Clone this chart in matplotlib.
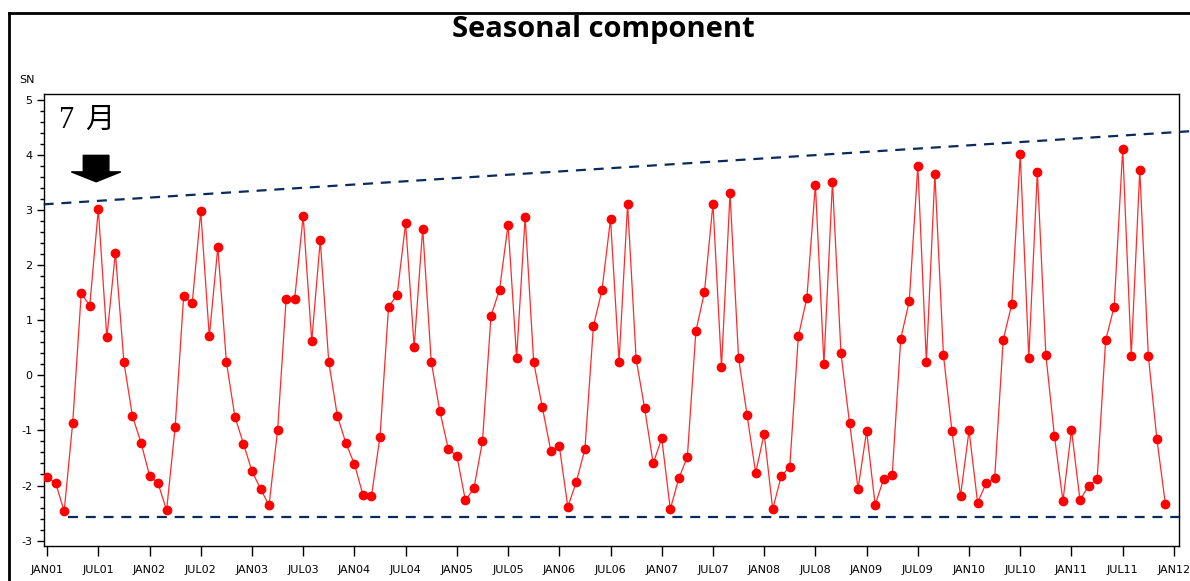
import matplotlib
matplotlib.use("Agg")
import matplotlib.pyplot as plt
from matplotlib.patches import FancyArrow
from matplotlib.ticker import MultipleLocator
import numpy as np

plt.rcParams["axes.unicode_minus"] = False

# seasonal component, monthly JAN01 .. DEC11
sn_2001 = [-1.85, -1.95, -2.47, -0.86, 1.49, 1.27, 3.02, 0.69, 2.23, 0.24, -0.74, -1.22]
sn_2002 = [-1.82, -1.96, -2.45, -0.94, 1.45, 1.31, 2.98, 0.71, 2.33, 0.25, -0.75, -1.24]
sn_2003 = [-1.74, -2.06, -2.36, -1.00, 1.39, 1.39, 2.90, 0.62, 2.46, 0.24, -0.73, -1.23]
sn_2004 = [-1.61, -2.17, -2.19, -1.11, 1.25, 1.46, 2.77, 0.52, 2.67, 0.25, -0.64, -1.34]
sn_2005 = [-1.46, -2.27, -2.05, -1.20, 1.08, 1.56, 2.74, 0.32, 2.88, 0.24, -0.57, -1.37]
sn_2006 = [-1.28, -2.39, -1.93, -1.34, 0.90, 1.55, 2.84, 0.25, 3.11, 0.30, -0.60, -1.60]
sn_2007 = [-1.14, -2.43, -1.87, -1.48, 0.80, 1.51, 3.12, 0.15, 3.31, 0.32, -0.72, -1.77]
sn_2008 = [-1.06, -2.43, -1.83, -1.66, 0.71, 1.41, 3.47, 0.21, 3.52, 0.40, -0.86, -2.06]
sn_2009 = [-1.01, -2.35, -1.88, -1.81, 0.67, 1.35, 3.81, 0.24, 3.66, 0.37, -1.01, -2.19]
sn_2010 = [-1.00, -2.31, -1.96, -1.87, 0.65, 1.29, 4.02, 0.32, 3.70, 0.37, -1.10, -2.28]
sn_2011 = [-0.99, -2.27, -2.00, -1.89, 0.64, 1.25, 4.12, 0.36, 3.73, 0.36, -1.15, -2.34]

sn_values = (sn_2001 + sn_2002 + sn_2003 + sn_2004 + sn_2005 + sn_2006
             + sn_2007 + sn_2008 + sn_2009 + sn_2010 + sn_2011)

tick_labels = ["JAN01", "JUL01", "JAN02", "JUL02", "JAN03", "JUL03", "JAN04", "JUL04",
               "JAN05", "JUL05", "JAN06", "JUL06", "JAN07", "JUL07", "JAN08", "JUL08",
               "JAN09", "JUL09", "JAN10", "JUL10", "JAN11", "JUL11", "JAN12"]

# hand drawn guide lines (month index, SN value)
upper_x = [-0.4, 134.0]
upper_y = [3.11, 4.44]
lower_x = [2.4, 133.1]
lower_y = [-2.57, -2.57]

months = np.arange(len(sn_values))

fig = plt.figure(figsize=(11.9, 5.81), dpi=100)
ax = fig.add_axes([0.0367, 0.0602, 0.9541, 0.7775])

ax.plot(months, sn_values, color="#ff2a2a", lw=0.9, zorder=3)
ax.plot(months, sn_values, ls="none", marker="o", ms=6, color="red", zorder=4)

ax.set_xlim(-0.4, 132.6)
ax.set_ylim(-3.1, 5.11)
ax.set_xticks(np.arange(0, 133, 6))
ax.set_xticklabels(tick_labels)
ax.yaxis.set_major_locator(MultipleLocator(1))
ax.yaxis.set_minor_locator(MultipleLocator(0.2))
ax.tick_params(axis="x", length=7, width=1, labelsize=8, pad=7)
ax.tick_params(axis="y", which="major", length=5, width=1, labelsize=8, pad=3)
ax.tick_params(axis="y", which="minor", length=3, width=1)
for s in ax.spines.values():
    s.set_linewidth(1)

# dashed envelope lines
ax.plot(upper_x, upper_y, ls=(0, (4.5, 3.5)), color="#0b2a5c", lw=1.6, clip_on=False, zorder=5)
ax.plot(lower_x, lower_y, ls=(0, (4.5, 3.5)), color="#0b2a5c", lw=1.6, clip_on=False, zorder=5)

# July marker
ax.text(1.4, 4.64, "7", fontsize=22, va="center", ha="left", family="Liberation Serif")
ax.text(4.5, 4.64, "月", fontsize=21, va="center", ha="left", family="Noto Sans CJK JP")
ax.add_patch(FancyArrow(5.74, 4.0, 0, -0.48, width=3.0, head_width=5.8, head_length=0.18,
                        length_includes_head=True, color="black", zorder=6))

fig.text(0.507, 0.95, "Seasonal component", ha="center", va="center",
         fontsize=21, fontweight="bold", family="Open Sans")
fig.text(0.0165, 0.862, "SN", ha="left", va="center", fontsize=8)

# outer frame (top and left edges visible)
fig.add_artist(plt.Line2D([0.0075, 1.0], [0.978, 0.978], transform=fig.transFigure, color="black", lw=2))
fig.add_artist(plt.Line2D([0.0075, 0.0075], [0.0, 0.978], transform=fig.transFigure, color="black", lw=2))

fig.savefig("out.png", dpi=100)
